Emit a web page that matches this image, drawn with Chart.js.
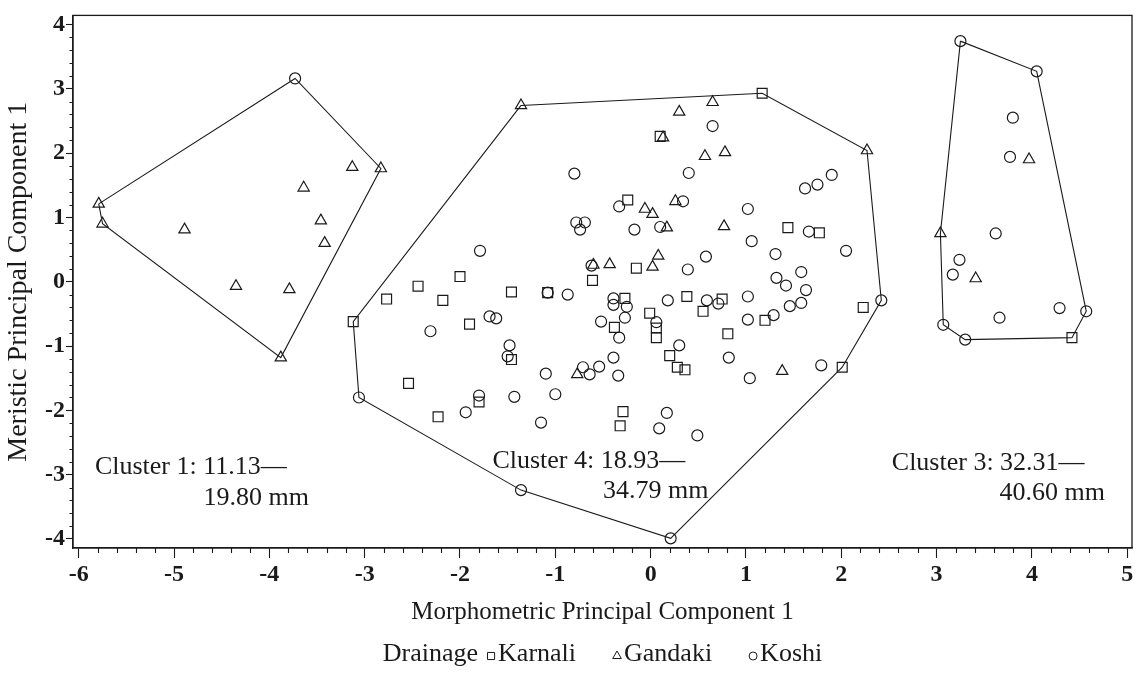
<!DOCTYPE html>
<html>
<head>
<meta charset="utf-8">
<script src="https://cdn.jsdelivr.net/npm/chart.js@4.4.0/dist/chart.umd.min.js"></script>
<style>
  html, body { margin: 0; padding: 0; background: #fff; }
</style>
</head>
<body>
<canvas id="pcaChart" width="1144" height="676"></canvas>
<script>
// Morphometric vs meristic PC1 scores, by drainage
const karnali = [
  [1.17, 2.93], [2.01, -1.33], [-3.12, -0.62], [4.42, -0.87], [0.10, 2.26], [-0.24, 1.27],
  [-0.61, 0.02], [-2.00, 0.08], [-2.44, -0.07], [-2.77, -0.27], [-2.18, -0.29], [-1.46, -0.16],
  [-1.08, -0.17], [-1.90, -0.66], [-2.54, -1.58], [-1.80, -1.87], [-2.23, -2.10], [-1.46, -1.21],
  [-0.38, -0.71], [-0.27, -0.26], [-0.29, -2.02], [-0.32, -2.24], [0.38, -0.23], [0.75, -0.27],
  [0.55, -0.46], [1.20, -0.60], [-0.01, -0.49], [0.06, -0.72], [0.06, -0.87], [0.20, -1.15],
  [0.28, -1.33], [0.36, -1.37], [0.81, -0.81], [2.23, -0.40], [-0.15, 0.21], [1.44, 0.84], [1.77, 0.76]
];
const gandaki = [
  [-5.79, 1.21], [-5.75, 0.90], [-2.83, 1.76], [-3.13, 1.78], [-3.64, 1.46], [-4.89, 0.81],
  [-3.46, 0.95], [-3.42, 0.60], [-4.35, -0.07], [-3.79, -0.12], [-3.88, -1.18],
  [-1.36, 2.74], [2.27, 2.04], [0.65, 2.79], [0.30, 2.64], [0.13, 2.24], [0.57, 1.95], [0.78, 2.01],
  [-0.06, 1.13], [0.02, 1.05], [0.26, 1.25], [0.17, 0.84], [0.77, 0.86], [-0.43, 0.27], [-0.60, 0.26],
  [0.08, 0.40], [0.02, 0.23], [-0.77, -1.44], [1.38, -1.39],
  [3.97, 1.90], [3.04, 0.75], [3.41, 0.05]
];
const koshi = [
  [-3.73, 3.16],
  [2.42, -0.29], [0.21, -3.99], [-1.36, -3.24], [-3.06, -1.80],
  [-0.80, 1.68], [-0.33, 1.17], [-0.78, 0.92], [-0.69, 0.92], [-0.74, 0.81], [-1.79, 0.48],
  [-0.62, 0.25], [-1.08, -0.17], [-0.87, -0.20], [-1.69, -0.54], [-1.62, -0.57], [-2.31, -0.77],
  [-1.80, -1.77], [-1.94, -2.03], [-1.48, -0.99], [-1.50, -1.16], [-1.43, -1.79], [-1.15, -2.19],
  [-1.10, -1.43], [-1.00, -1.75], [-0.71, -1.33], [-0.64, -1.44], [-0.54, -1.32], [-0.39, -1.18],
  [-0.34, -1.46], [-0.39, -0.26], [-0.39, -0.36], [-0.25, -0.39], [-0.52, -0.62], [-0.27, -0.56],
  [-0.33, -0.87], [0.18, -0.29], [0.59, -0.29], [0.71, -0.34], [1.02, -0.23], [1.02, -0.59],
  [1.29, -0.52], [1.46, -0.38], [1.58, -0.33], [1.63, -0.13], [1.58, 0.15], [1.32, 0.06],
  [1.42, -0.06], [0.06, -0.63], [0.30, -0.99], [0.82, -1.18], [1.04, -1.50], [1.79, -1.30],
  [0.17, -2.04], [0.09, -2.28], [0.49, -2.39], [0.39, 0.19], [0.65, 2.42], [0.40, 1.69],
  [1.02, 1.13], [1.62, 1.45], [1.75, 1.51], [1.90, 1.66], [0.34, 1.25], [-0.17, 0.81],
  [0.10, 0.85], [1.66, 0.78], [1.06, 0.63], [1.31, 0.43], [2.05, 0.48], [0.58, 0.39],
  [3.25, 3.74], [4.05, 3.27], [3.80, 2.55], [3.77, 1.94], [3.62, 0.75], [3.24, 0.34],
  [3.17, 0.11], [4.29, -0.41], [4.57, -0.46], [3.66, -0.56], [3.07, -0.67], [3.30, -0.90]
];

// convex hulls around each cluster (closed)
const hull1 = [[-5.79, 1.21], [-3.73, 3.16], [-2.83, 1.76], [-3.88, -1.18], [-5.75, 0.90], [-5.79, 1.21]];
const hull4 = [[-1.36, 2.74], [1.17, 2.93], [2.27, 2.04], [2.42, -0.29], [2.01, -1.33], [0.21, -3.99],
               [-1.36, -3.24], [-3.06, -1.80], [-3.12, -0.62], [-1.36, 2.74]];
const hull3 = [[3.25, 3.74], [4.05, 3.27], [4.57, -0.46], [4.42, -0.87], [3.30, -0.90], [3.07, -0.67],
               [3.04, 0.75], [3.25, 3.74]];

const clusterNotes = [
  { text: 'Cluster 1: 11.13\u2014', x: -5.83, y: -2.88 },
  { text: '19.80 mm', x: -4.69, y: -3.36 },
  { text: 'Cluster 4: 18.93\u2014', x: -1.66, y: -2.79 },
  { text: '34.79 mm', x: -0.50, y: -3.25 },
  { text: 'Cluster 3: 32.31\u2014', x: 2.53, y: -2.82 },
  { text: '40.60 mm', x: 3.66, y: -3.28 }
];

const INK = '#1a1a1a';
const SERIF = '"Liberation Serif", "Times New Roman", serif';

const toPts = arr => arr.map(([x, y]) => ({ x, y }));

const markerSet = (label, data, style, radius) => ({
  label,
  data: toPts(data),
  showLine: false,
  pointStyle: style,
  pointRadius: radius,
  pointHoverRadius: radius,
  pointBorderColor: INK,
  pointBackgroundColor: 'rgba(0,0,0,0)',
  pointBorderWidth: 1.2,
  isMarker: true
});

const hullSet = data => ({
  label: '',
  data: toPts(data),
  showLine: true,
  pointRadius: 0,
  borderColor: INK,
  borderWidth: 1.1,
  fill: false,
  tension: 0
});

// frame, minor ticks, cluster notes and the drainage key
const extras = {
  id: 'extras',
  afterDraw(chart) {
    const { ctx, chartArea: a, scales: { x, y } } = chart;
    ctx.save();
    ctx.strokeStyle = INK;
    ctx.lineWidth = 1.3;
    ctx.strokeRect(a.left, a.top, a.right - a.left, a.bottom - a.top);

    ctx.lineWidth = 1.1;
    ctx.beginPath();
    for (let v = -60; v <= 50; v += 2) {
      if (v % 10 === 0) continue;
      const px = Math.round(x.getPixelForValue(v / 10)) + 0.5;
      ctx.moveTo(px, a.bottom);
      ctx.lineTo(px, a.bottom + 5);
    }
    for (let v = -40; v <= 40; v += 2) {
      if (v % 10 === 0) continue;
      const py = Math.round(y.getPixelForValue(v / 10)) + 0.5;
      ctx.moveTo(a.left, py);
      ctx.lineTo(a.left - 3.5, py);
    }
    ctx.stroke();

    ctx.fillStyle = INK;
    ctx.font = '26px ' + SERIF;
    ctx.textBaseline = 'middle';
    ctx.textAlign = 'left';
    clusterNotes.forEach(n => {
      ctx.fillText(n.text, x.getPixelForValue(n.x), y.getPixelForValue(n.y));
    });

    // key: "Drainage" then marker + name for each drainage
    const keyY = 654;
    ctx.font = '26px ' + SERIF;
    const items = chart.data.datasets.filter(d => d.isMarker);
    const head = 'Drainage';
    const markW = 10, gapHead = 8, gapItem = 36;
    let total = ctx.measureText(head).width + gapHead;
    items.forEach((d, i) => {
      total += markW + 2 + ctx.measureText(d.label).width + (i < items.length - 1 ? gapItem : 0);
    });
    let cx = (a.left + a.right) / 2 - total / 2;
    ctx.fillText(head, cx, keyY);
    cx += ctx.measureText(head).width + gapHead;
    items.forEach(d => {
      ctx.fillStyle = 'rgba(0,0,0,0)';
      ctx.strokeStyle = INK;
      ctx.lineWidth = 1;
      Chart.helpers.drawPoint(ctx, {
        pointStyle: d.pointStyle,
        radius: d.pointStyle === 'circle' ? 4 : 5,
        borderWidth: 1,
        rotation: 0
      }, cx + markW / 2, keyY + 2);
      cx += markW + 2;
      ctx.fillStyle = INK;
      ctx.fillText(d.label, cx, keyY);
      cx += ctx.measureText(d.label).width + gapItem;
    });
    ctx.restore();
  }
};

new Chart(document.getElementById('pcaChart'), {
  type: 'scatter',
  data: {
    datasets: [
      hullSet(hull1),
      hullSet(hull4),
      hullSet(hull3),
      markerSet('Karnali', karnali, 'rect', 7),
      markerSet('Gandaki', gandaki, 'triangle', 6.5),
      markerSet('Koshi', koshi, 'circle', 5.5)
    ]
  },
  options: {
    responsive: false,
    animation: false,
    layout: { padding: { left: 0, top: 8, right: 12, bottom: 49 } },
    plugins: {
      legend: { display: false },
      tooltip: { enabled: false }
    },
    scales: {
      x: {
        type: 'linear',
        min: -6.06,
        max: 5.05,
        ticks: {
          stepSize: 1,
          includeBounds: false,
          maxRotation: 0,
          padding: 2,
          color: INK,
          font: { family: SERIF, size: 24, weight: 'bold' }
        },
        grid: { drawOnChartArea: false, tickLength: 10, tickColor: INK, tickWidth: 1.1 },
        border: { color: INK, width: 1.3 },
        title: {
          display: true,
          text: 'Morphometric Principal Component 1',
          color: INK,
          padding: 0,
          font: { family: SERIF, size: 25 }
        },
        afterFit(scale) { scale.height = 79; }
      },
      y: {
        type: 'linear',
        min: -4.14,
        max: 4.14,
        ticks: {
          stepSize: 1,
          includeBounds: false,
          padding: 1,
          color: INK,
          font: { family: SERIF, size: 24, weight: 'bold' }
        },
        grid: { drawOnChartArea: false, tickLength: 7, tickColor: INK, tickWidth: 1.1 },
        border: { color: INK, width: 1.3 },
        title: {
          display: true,
          text: 'Meristic Principal Component 1',
          color: INK,
          padding: { top: 2, bottom: 0 },
          font: { family: SERIF, size: 28 }
        },
        afterFit(scale) { scale.width = 73; }
      }
    }
  },
  plugins: [extras]
});
</script>
</body>
</html>
